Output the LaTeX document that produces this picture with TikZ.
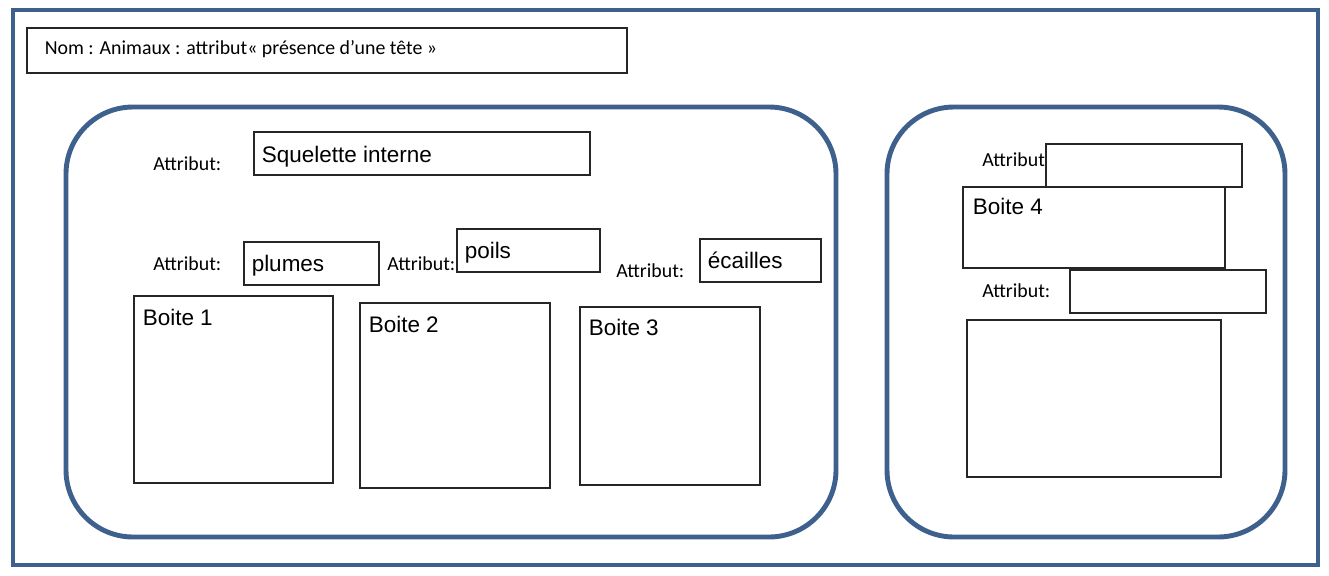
\documentclass[tikz,border=0pt]{standalone}
\usepackage{fontspec}
\setmainfont{Liberation Sans}
\newfontfamily\calibri{Carlito}
\usetikzlibrary{positioning}

\definecolor{frameblue}{RGB}{61,96,141}

\begin{document}
\begin{tikzpicture}[
    x=0.02cm, y=-0.02cm,
    frame/.style={draw=frameblue, line width=2.3pt},
    group/.style={draw=frameblue, line width=2.8pt, rounded corners=1.34cm},
    box/.style={draw=black!85, line width=0.7pt, inner sep=0pt, minimum height=0.86cm},
    valtext/.style={font=\fontsize{12.8}{15}\selectfont, inner sep=0pt, anchor=base west},
    attr/.style={font=\calibri\fontsize{11.3}{14}\selectfont, inner sep=0pt, anchor=base west}
]
    \useasboundingbox (0,0) rectangle (1329,575);

    % frames
    \draw[frame] (13,10) rectangle (1318,565);
    \draw[group] (66,107) rectangle (836,537);
    \draw[group] (887,107) rectangle (1285,537);

    % title
    \node[box, minimum width=12cm, minimum height=0.9cm] (title) at (327,50.5) {};
    \node[attr] (titletext) at ([shift={(18,27)}]title.north west) {Nom : Animaux : attribut« présence d’une tête »};

    % left group
    \node[box, minimum width=6.72cm] (squelette) at (422,153.5) {};
    \node[valtext] (squelettetext) at ([shift={(8,9)}]squelette.west) {Squelette interne};
    \node[attr] (attr1) at (153,170) {Attribut:};

    \node[box, minimum width=2.7cm] (plumes) at (311.5,263.5) {};
    \node[valtext] (plumestext) at ([shift={(8,8)}]plumes.west) {plumes};
    \node[attr] (attr2) at (153,270) {Attribut:};

    \node[box, minimum width=2.86cm] (poils) at (528.5,250.5) {};
    \node[valtext] (poilstext) at ([shift={(8,8)}]poils.west) {poils};
    \node[attr] (attr3) at (387,270) {Attribut:};

    \node[box, minimum width=2.42cm] (ecailles) at (760.5,260.5) {};
    \node[valtext] (ecaillestext) at ([shift={(8,8)}]ecailles.west) {écailles};
    \node[attr] (attr4) at (616,277) {Attribut:};

    \node[box, minimum width=3.98cm, minimum height=3.74cm] (boite1) at (233.5,389.5) {};
    \node[valtext] (boite1text) at ([shift={(9,30)}]boite1.north west) {Boite 1};
    \node[box, minimum width=3.8cm, minimum height=3.7cm] (boite2) at (455,395.5) {};
    \node[valtext] (boite2text) at ([shift={(9,30)}]boite2.north west) {Boite 2};
    \node[box, minimum width=3.6cm, minimum height=3.56cm] (boite3) at (670,396) {};
    \node[valtext] (boite3text) at ([shift={(9,29)}]boite3.north west) {Boite 3};

    % right group
    \node[box, minimum width=3.92cm] (valeur5) at (1144,165.5) {};
    \node[attr] (attr5) at (982,166) {Attribut};
    \node[box, minimum width=5.24cm, minimum height=1.62cm] (boite4) at (1094,227.5) {};
    \node[valtext] (boite4text) at ([shift={(10,28)}]boite4.north west) {Boite 4};
    \node[box, minimum width=3.92cm] (valeur6) at (1168,291.5) {};
    \node[attr] (attr6) at (982,297) {Attribut:};
    \node[box, minimum width=5.08cm, minimum height=3.14cm] (boite5) at (1094,398.5) {};
\end{tikzpicture}
\end{document}
